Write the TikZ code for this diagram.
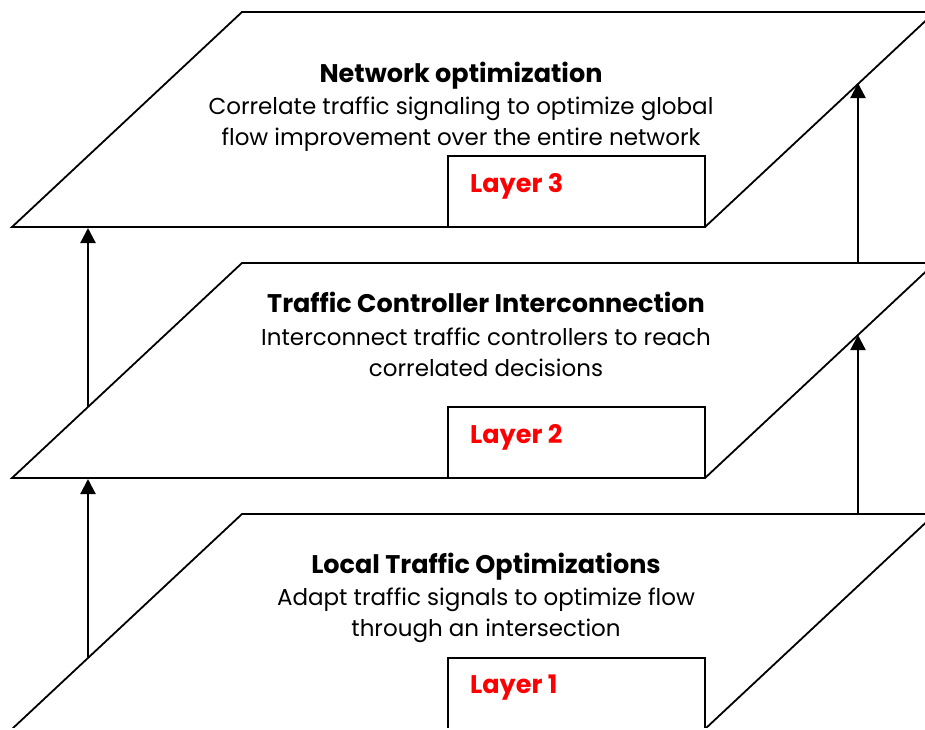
\documentclass[tikz,border=0pt]{standalone}
\usepackage{fontspec}
\setmainfont{Poppins}
\usetikzlibrary{arrows.meta}
\tikzstyle{plane}=[draw, line width=1.8pt]
\tikzstyle{layer box}=[draw, line width=1.8pt]
\tikzstyle{layer title}=[inner sep=0pt, font=\fontsize{25.5}{28}\selectfont\bfseries]
\tikzstyle{layer text}=[inner sep=0pt, align=center, font=\fontsize{23}{31}\selectfont]
\tikzstyle{layer label}=[inner sep=0pt, anchor=west, text=red, font=\fontsize{25.5}{28}\selectfont\bfseries]
\tikzstyle{link}=[line width=2.2pt, -{Triangle[length=15pt,width=15pt]}]

\begin{document}
\begin{tikzpicture}[x=1pt,y=-1pt]
  \useasboundingbox (0,0) rectangle (925,729);
  \clip (0,0) rectangle (925,727.5);
  \foreach \t/\n in {12/3,263/2,514/1} {
    \draw[plane] (242,\t) -- (935,\t) -- (705,\t+215) -- (12,\t+215) -- cycle;
    \draw[layer box] (448,\t+144) rectangle (705,\t+215);
    \node[layer label] (label\n) at (470,\t+174) {Layer \n};
  }
  \node[layer title] (title3) at (461,76) {Network optimization};
  \node[layer text] (text3) at (461,124) {Correlate traffic signaling to optimize global\\flow improvement over the entire network};
  \node[layer title] (title2) at (486,302) {Traffic Controller Interconnection};
  \node[layer text] (text2) at (486,352) {Interconnect traffic controllers to reach\\correlated decisions};
  \node[layer title] (title1) at (486,567) {Local Traffic Optimizations};
  \node[layer text] (text1) at (486,615) {Adapt traffic signals to optimize flow\\through an intersection};
  % arrows between the planes
  \coordinate (up1 left) at (88,657);
  \coordinate (down2 left) at (88,479);
  \coordinate (up2 left) at (88,407);
  \coordinate (down3 left) at (88,228);
  \coordinate (up1 right) at (858,514);
  \coordinate (down2 right) at (858,335);
  \coordinate (up2 right) at (858,263);
  \coordinate (down3 right) at (858,83);
  \draw[link] (up1 left) -- (down2 left);
  \draw[link] (up2 left) -- (down3 left);
  \draw[link] (up1 right) -- (down2 right);
  \draw[link] (up2 right) -- (down3 right);
\end{tikzpicture}
\end{document}
